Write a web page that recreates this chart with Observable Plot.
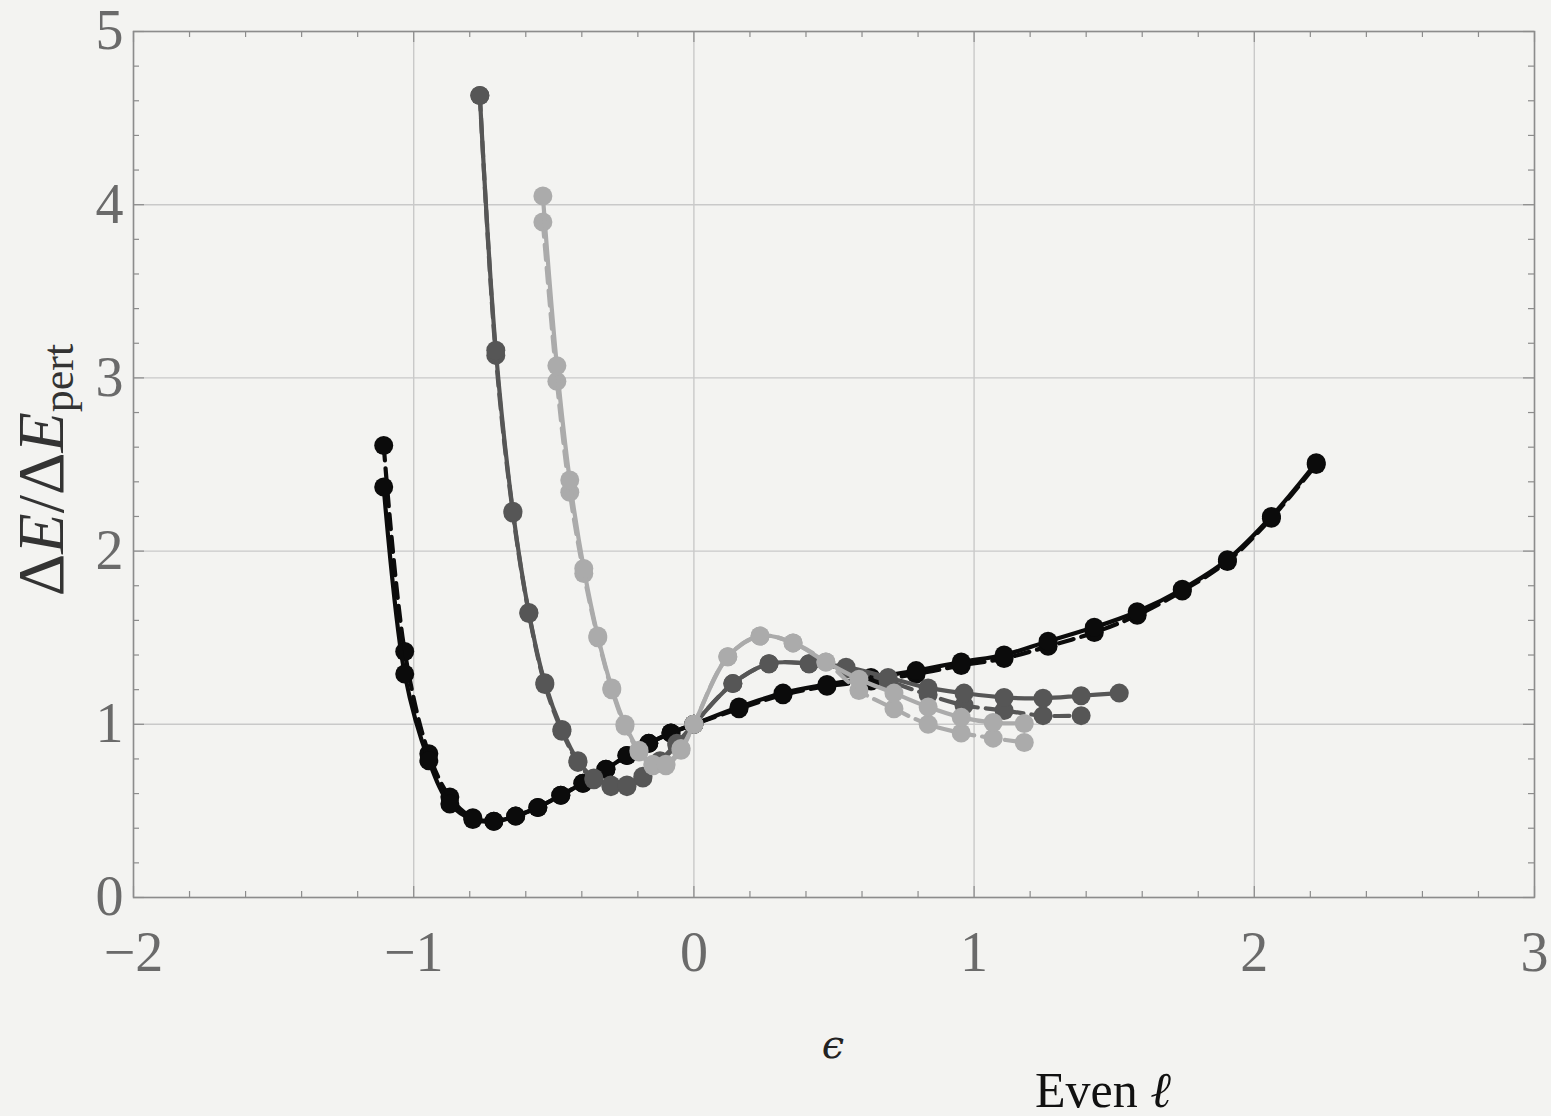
<!DOCTYPE html>
<html><head><meta charset="utf-8">
<script src="https://cdn.jsdelivr.net/npm/d3@7"></script>
<script src="https://cdn.jsdelivr.net/npm/@observablehq/plot@0.6"></script>
<style>
html,body{margin:0;padding:0;background:#f3f3f1;}
#chart{position:relative;width:1551px;height:1116px;}
</style></head><body><div id="chart"></div>
<script>
// ---- tick values ----
const xMajorTicks = [-2, -1, 0, 1, 2, 3];
const yMajorTicks = [0, 1, 2, 3, 4, 5];
const xMinorTicks = [-1.8,-1.6,-1.4,-1.2,-0.8,-0.6,-0.4,-0.2,0.2,0.4,0.6,0.8,1.2,1.4,1.6,1.8,2.2,2.4,2.6,2.8];
const yMinorTicks = [0.2,0.4,0.6,0.8,1.2,1.4,1.6,1.8,2.2,2.4,2.6,2.8,3.2,3.4,3.6,3.8,4.2,4.4,4.6,4.8];

// ---- black series ----
const blackX = [-1.107,-1.032,-0.946,-0.871,-0.789,-0.714,-0.636,-0.557,-0.475,-0.396,-0.314,-0.239,-0.161,-0.082,0,
                0.161,0.318,0.475,0.632,0.793,0.954,1.107,1.264,1.429,1.582,1.743,1.904,2.061,2.221];
const blackSolidY = [2.37,1.29,0.79,0.54,0.45,0.44,0.47,0.52,0.59,0.66,0.74,0.82,0.89,0.95,1.0,
                     1.10,1.18,1.23,1.27,1.31,1.36,1.40,1.48,1.56,1.65,1.78,1.95,2.20,2.51];
const blackDashY  = [2.61,1.42,0.83,0.58,0.46,0.44,0.47,0.52,0.59,0.66,0.74,0.82,0.89,0.95,1.0,
                     1.09,1.17,1.22,1.25,1.29,1.34,1.38,1.45,1.53,1.63,1.77,1.94,2.19,2.50];

// ---- dark gray series ----
const darkX = [-0.764,-0.707,-0.646,-0.589,-0.532,-0.471,-0.414,-0.357,-0.296,-0.239,-0.182,-0.121,-0.061,0,
               0.139,0.268,0.411,0.543,0.693,0.836,0.964,1.107,1.246,1.382,1.518];
const darkSolidY = [4.63,3.16,2.23,1.645,1.24,0.97,0.79,0.69,0.65,0.65,0.70,0.79,0.89,1.0,
                    1.235,1.35,1.35,1.33,1.27,1.21,1.18,1.155,1.15,1.165,1.18];
const darkDashY  = [4.63,3.13,2.22,1.64,1.23,0.96,0.78,0.68,0.64,0.64,0.69,0.78,0.88,1.0,
                    1.235,1.35,1.35,1.32,1.25,1.17,1.11,1.08,1.05,1.05];

// ---- light gray series ----
const lightX = [-0.539,-0.489,-0.443,-0.393,-0.343,-0.293,-0.246,-0.196,-0.146,-0.1,-0.046,0,
                0.121,0.236,0.354,0.471,0.589,0.714,0.836,0.954,1.068,1.179];
const lightSolidY = [4.05,3.07,2.41,1.90,1.51,1.21,1.0,0.85,0.77,0.77,0.86,1.0,
                     1.39,1.51,1.47,1.36,1.26,1.18,1.10,1.04,1.01,1.005];
const lightDashY  = [3.90,2.98,2.34,1.87,1.50,1.20,0.99,0.84,0.76,0.76,0.85,1.0,
                     1.39,1.51,1.47,1.36,1.195,1.09,1.0,0.95,0.92,0.895];

const series = [
  {x: blackX, y: blackDashY,  color: "#0b0b0b", dashed: true},
  {x: blackX, y: blackSolidY, color: "#0b0b0b", dashed: false},
  {x: darkX,  y: darkDashY,   color: "#565656", dashed: true},
  {x: darkX,  y: darkSolidY,  color: "#565656", dashed: false},
  {x: lightX, y: lightDashY,  color: "#ababab", dashed: true},
  {x: lightX, y: lightSolidY, color: "#ababab", dashed: false}
];

const W = 1551, H = 1116;
const mL = 133, mR = 17, mT = 31, mB = 219;
const plotW = W - mL - mR, plotH = H - mT - mB;
const frameColor = "#8c8c8c";
const minor = 6, major = 11;
const fmt = d => d < 0 ? "\u2212" + Math.abs(d) : String(d);

const marks = [
  Plot.gridX(xMajorTicks, {stroke: "#c9c9c9", strokeOpacity: 1, strokeWidth: 1.4}),
  Plot.gridY(yMajorTicks, {stroke: "#c9c9c9", strokeOpacity: 1, strokeWidth: 1.4}),
  // inward frame ticks
  Plot.tickX(xMinorTicks, {x: d => d, insetTop: plotH - minor, stroke: frameColor, strokeWidth: 1.2}),
  Plot.tickX(xMinorTicks, {x: d => d, insetBottom: plotH - minor, stroke: frameColor, strokeWidth: 1.2}),
  Plot.tickX(xMajorTicks, {x: d => d, insetTop: plotH - major, stroke: frameColor, strokeWidth: 1.2}),
  Plot.tickX(xMajorTicks, {x: d => d, insetBottom: plotH - major, stroke: frameColor, strokeWidth: 1.2}),
  Plot.tickY(yMinorTicks, {y: d => d, insetRight: plotW - minor, stroke: frameColor, strokeWidth: 1.2}),
  Plot.tickY(yMinorTicks, {y: d => d, insetLeft: plotW - minor, stroke: frameColor, strokeWidth: 1.2}),
  Plot.tickY(yMajorTicks, {y: d => d, insetRight: plotW - major, stroke: frameColor, strokeWidth: 1.2}),
  Plot.tickY(yMajorTicks, {y: d => d, insetLeft: plotW - major, stroke: frameColor, strokeWidth: 1.2}),
  Plot.frame({stroke: frameColor, strokeWidth: 1.5}),
  Plot.axisX(xMajorTicks, {tickSize: 0, tickPadding: 34, fontSize: 56, color: "#6a6a6a", tickFormat: fmt, label: null}),
  Plot.axisY(yMajorTicks, {tickSize: 0, tickPadding: 10, fontSize: 56, color: "#6a6a6a", tickFormat: fmt, label: null})
];

for (const s of series) {
  const rows = s.x.slice(0, s.y.length).map((x, i) => ({x, y: s.y[i]}));
  marks.push(Plot.line(rows, {x: "x", y: "y", stroke: s.color, strokeWidth: 4.2, curve: "catmull-rom",
    strokeDasharray: s.dashed ? "15,8" : null}));
  marks.push(Plot.dot(rows, {x: "x", y: "y", r: 9.5, fill: s.color, stroke: "none"}));
}

const chart = Plot.plot({
  width: W, height: H,
  marginLeft: mL, marginRight: mR, marginTop: mT, marginBottom: mB,
  style: {background: "#f3f3f1", fontFamily: "'Liberation Serif', serif", overflow: "visible"},
  x: {domain: [-2, 3], axis: null},
  y: {domain: [0, 5], axis: null},
  marks
});
document.getElementById("chart").appendChild(chart);

const svg = d3.select(chart);
// y-axis title
const yt = svg.append("text")
  .attr("transform", "translate(63,470) rotate(-90)")
  .attr("text-anchor", "middle")
  .attr("font-family", "'Liberation Serif', serif")
  .attr("font-size", 66)
  .attr("fill", "#333");
yt.append("tspan").text("\u0394");
yt.append("tspan").attr("font-style", "italic").text("E");
yt.append("tspan").text("/\u0394");
yt.append("tspan").attr("font-style", "italic").text("E");
yt.append("tspan").attr("font-size", 44).attr("dy", 10).text("pert");

// x-axis title
svg.append("text")
  .attr("x", 833).attr("y", 1058)
  .attr("text-anchor", "middle")
  .attr("font-family", "'DejaVu Serif', serif")
  .attr("font-style", "italic")
  .attr("font-size", 40)
  .attr("fill", "#222")
  .text("\u03F5");

// caption
const cap = svg.append("text")
  .attr("x", 1035).attr("y", 1107)
  .attr("text-anchor", "start")
  .attr("font-family", "'Liberation Serif', serif")
  .attr("font-size", 50)
  .attr("fill", "#111");
cap.append("tspan").text("Even ");
cap.append("tspan").attr("font-style", "italic").text("\u2113");
</script></body></html>
